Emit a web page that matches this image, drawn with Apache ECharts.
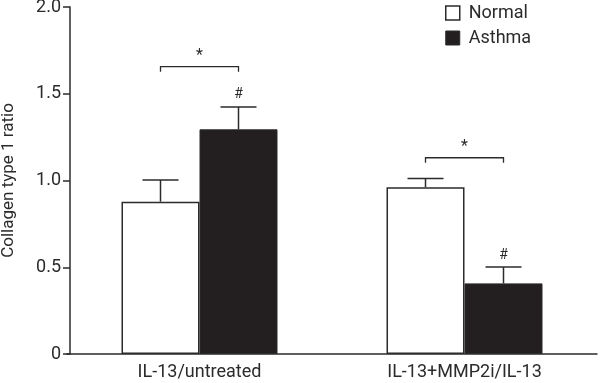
<!DOCTYPE html>
<html>
<head>
<meta charset="utf-8">
<script src="https://cdn.jsdelivr.net/npm/echarts@6/dist/echarts.min.js"></script>
<style>
  html, body { margin: 0; padding: 0; background: #fff; }
  #chart { width: 600px; height: 383px; }
</style>
</head>
<body>
<div id="chart"></div>
<script>
const categories = ["IL-13/untreated", "IL-13+MMP2i/IL-13"];
const normalMean = [0.878, 0.961];
const normalUpper = [1.003, 1.012];
const asthmaMean = [1.295, 0.407];
const asthmaUpper = [1.424, 0.501];
const bracketLevel = [1.656, 1.131];
const yTicks = [0, 0.5, 1.0, 1.5, 2.0];

const ink = "#2b2b2b";
const font = "Roboto";
const barW = 78;

const chart = echarts.init(document.getElementById("chart"));

const errSeries = (means, uppers, side) => ({
  type: "custom",
  z: 5,
  silent: true,
  data: means.map((m, i) => [i, m, uppers[i]]),
  renderItem(params, api) {
    const base = api.coord([api.value(0), api.value(1)]);
    const top = api.coord([api.value(0), api.value(2)]);
    const cx = base[0] + side * barW / 2;
    const st = { stroke: ink, lineWidth: 1.5 };
    return {
      type: "group",
      children: [
        { type: "line", shape: { x1: cx, y1: base[1], x2: cx, y2: top[1] }, style: st },
        { type: "line", shape: { x1: cx - 18, y1: top[1], x2: cx + 18, y2: top[1] }, style: st }
      ]
    };
  }
});

chart.setOption({
  animation: false,
  textStyle: { fontFamily: font },
  grid: { left: 67, right: 3, top: 7, bottom: 29, outerBoundsMode: "none", containLabel: false },
  legend: {
    orient: "vertical",
    left: 440,
    top: -1,
    itemWidth: 14,
    itemHeight: 14,
    itemGap: 7,
    icon: "rect",
    textStyle: { fontSize: 18, color: ink, fontFamily: font, padding: [0, 0, 0, 4] },
    data: [
      { name: "Normal", itemStyle: { color: "#fff", borderColor: ink, borderWidth: 1.5 } },
      { name: "Asthma", itemStyle: { color: "#231f20", borderColor: ink, borderWidth: 1 } }
    ]
  },
  xAxis: {
    type: "category",
    data: categories,
    axisLine: { lineStyle: { color: ink, width: 1.5 } },
    axisTick: { alignWithLabel: true, length: 7, lineStyle: { color: ink, width: 1.5 } },
    axisLabel: { fontSize: 18, color: ink, margin: 9 }
  },
  yAxis: {
    type: "value",
    min: 0,
    max: 2,
    interval: 0.5,
    offset: -3,
    name: "Collagen type 1 ratio",
    nameLocation: "middle",
    nameGap: 53,
    nameTextStyle: { fontSize: 17, color: ink },
    splitLine: { show: false },
    axisLine: { show: true, lineStyle: { color: ink, width: 1.5 } },
    axisTick: { show: true, length: 7, lineStyle: { color: ink, width: 1.5 } },
    axisLabel: {
      fontSize: 18,
      color: ink,
      margin: 9,
      formatter: v => (yTicks.includes(v) && v !== 0 ? v.toFixed(1) : String(v))
    }
  },
  series: [
    {
      name: "Normal",
      type: "bar",
      barWidth: barW,
      barGap: "0%",
      data: normalMean,
      itemStyle: { color: "#fff", borderColor: ink, borderWidth: 1.5 }
    },
    {
      name: "Asthma",
      type: "bar",
      barWidth: barW,
      barGap: "0%",
      data: asthmaMean,
      itemStyle: { color: "#231f20", borderColor: ink, borderWidth: 1 }
    },
    errSeries(normalMean, normalUpper, -1),
    errSeries(asthmaMean, asthmaUpper, 1),
    {
      type: "custom",
      z: 6,
      silent: true,
      data: bracketLevel.map((b, i) => [i, b, asthmaUpper[i]]),
      renderItem(params, api) {
        const p = api.coord([api.value(0), api.value(1)]);
        const hp = api.coord([api.value(0), api.value(2)]);
        const l = p[0] - barW / 2, r = p[0] + barW / 2;
        return {
          type: "group",
          children: [
            {
              type: "polyline",
              shape: { points: [[l, p[1] + 5], [l, p[1]], [r, p[1]], [r, p[1] + 5]] },
              style: { stroke: ink, lineWidth: 1.3, fill: null }
            },
            {
              type: "text",
              style: { text: "*", x: p[0], y: p[1] - 3, align: "center", verticalAlign: "bottom", fontSize: 16, fill: ink, fontFamily: font }
            },
            {
              type: "text",
              style: { text: "#", x: r, y: hp[1] - 5, align: "center", verticalAlign: "bottom", fontSize: 14, fill: ink, fontFamily: font }
            }
          ]
        };
      }
    }
  ]
});
</script>
</body>
</html>
